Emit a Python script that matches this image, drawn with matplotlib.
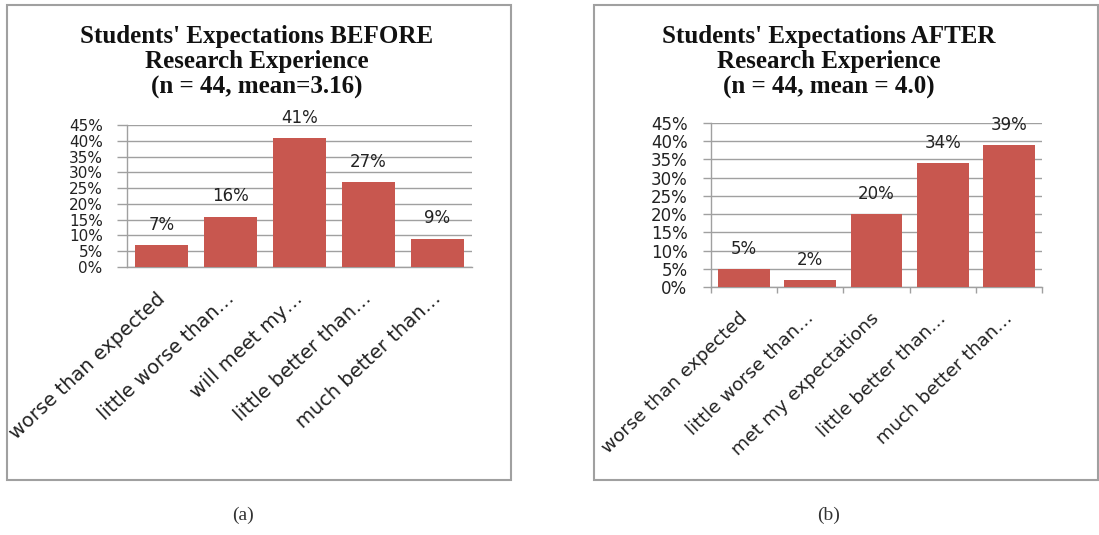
import numpy as np
import matplotlib.pyplot as plt
from matplotlib.patches import Rectangle
from matplotlib.transforms import ScaledTranslation

# survey responses, percent of n = 44
before_labels = ["worse than expected", "little worse than\u2026", "will meet my\u2026",
                 "little better than\u2026", "much better than\u2026"]
before_pct = [7, 16, 41, 27, 9]

after_labels = ["worse than expected", "little worse than\u2026", "met my expectations",
                "little better than\u2026", "much better than\u2026"]
after_pct = [5, 2, 20, 34, 39]

before_title = "Students' Expectations BEFORE\nResearch Experience\n(n = 44, mean=3.16)"
after_title = "Students' Expectations AFTER\nResearch Experience\n(n = 44, mean = 4.0)"

BAR = "#c8574f"
GRID = "#a0a0a0"
W, H = 1099, 535

fig = plt.figure(figsize=(W / 100, H / 100), dpi=100)


def px_rect(x0, y0, x1, y1):
    # pixel box (top-left origin) -> figure fraction [l, b, w, h]
    return [x0 / W, 1 - y1 / H, (x1 - x0) / W, (y1 - y0) / H]


# outer frames around each chart
for x0 in (7, 594):
    l, b, w, h = px_rect(x0, 5, x0 + 504, 480)
    fig.patches.append(Rectangle((l, b), w, h, transform=fig.transFigure,
                                 fill=False, ec="#a0a0a0", lw=1.5))


def draw(rect, labels, pct, title, title_x, caption, cap_x, ysize, xsize, rot,
         tick_len, tick_pad, xticks_out):
    ax = fig.add_axes(px_rect(*rect))
    x = np.arange(len(labels))
    bars = ax.bar(x, pct, width=0.78, color=BAR, zorder=3)
    ax.bar_label(bars, fmt="{:.0f}%", padding=8, fontsize=12, color="#222222")

    ax.set_xlim(-0.5, len(labels) - 0.5)
    ax.set_ylim(0, 45)
    ax.set_yticks(np.arange(0, 46, 5))
    ax.set_yticklabels([f"{v}%" for v in range(0, 46, 5)])
    ax.yaxis.grid(True, color=GRID, lw=1, zorder=0)
    ax.tick_params(axis="y", length=tick_len, width=1, color=GRID, pad=tick_pad,
                   labelsize=ysize, labelcolor="#222222")
    for s in ("top", "right"):
        ax.spines[s].set_visible(False)
    for s in ("left", "bottom"):
        ax.spines[s].set_color(GRID)
        ax.spines[s].set_linewidth(1)

    ax.set_xticks(x)
    ax.set_xticklabels(labels, rotation=rot, ha="right", va="top",
                       rotation_mode="anchor", fontsize=xsize, color="#222222")
    ax.tick_params(axis="x", length=0, pad=0)
    if xticks_out:
        ax.set_xticks(np.arange(-0.5, len(labels)), minor=True)
        ax.tick_params(axis="x", which="minor", length=4, width=1, color=GRID)
    shift = ScaledTranslation(-6 / 100, -22 / 100, fig.dpi_scale_trans)
    for lbl in ax.get_xticklabels():
        lbl.set_transform(lbl.get_transform() + shift)

    fig.text(title_x / W, 1 - 25 / H, title, ha="center", va="top",
             family="Liberation Serif", weight="bold", fontsize=18,
             linespacing=1.13, color="#111111")
    fig.text(cap_x / W, 1 - 515 / H, caption, ha="center", va="center",
             family="Liberation Serif", fontsize=14, color="#333333")
    return ax


draw((127, 125, 472, 267), before_labels, before_pct, before_title, 257, "(a)", 243,
     11, 14, 43, 7, 10.5, False)
draw((711, 123, 1042, 287), after_labels, after_pct, after_title, 829, "(b)", 829,
     12, 13.3, 44, 6, 11, True)

fig.savefig("out.png", dpi=100)
